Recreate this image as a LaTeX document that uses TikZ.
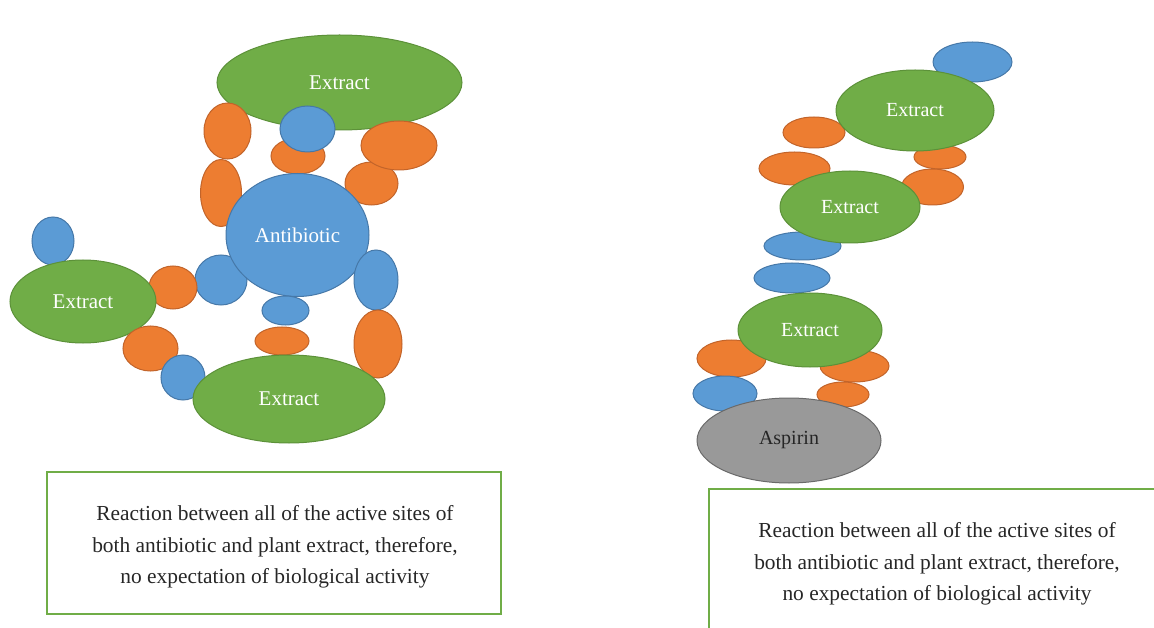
\documentclass[tikz,border=0pt]{standalone}
\usepackage{fontspec}
\setmainfont{Liberation Serif}
\usetikzlibrary{shapes.geometric}

\definecolor{siteblue}{HTML}{5B9BD5}
\definecolor{siteblueD}{HTML}{4678A8}
\definecolor{siteorange}{HTML}{ED7D31}
\definecolor{siteorangeD}{HTML}{C2642A}
\definecolor{extgreen}{HTML}{70AD47}
\definecolor{extgreenD}{HTML}{5C9139}
\definecolor{aspgrey}{HTML}{999999}
\definecolor{aspgreyD}{HTML}{6A6A6A}
\definecolor{boxgreen}{HTML}{70AD47}

\tikzset{
  blob/.style={ellipse, inner sep=0pt, line width=1pt},
  bsite/.style={blob, fill=siteblue, draw=siteblueD},
  osite/.style={blob, fill=siteorange, draw=siteorangeD},
  extract/.style={blob, fill=extgreen, draw=extgreenD, text=white,
    font=\fontsize{21}{24}\selectfont},
  extractR/.style={extract, font=\fontsize{20}{24}\selectfont},
  drug/.style={blob, fill=aspgrey, draw=aspgreyD, text=black!85,
    font=\fontsize{20}{24}\selectfont},
  antib/.style={blob, fill=siteblue, draw=siteblueD, text=white,
    font=\fontsize{21}{24}\selectfont},
  caption/.style={align=center, text=black!85,
    font=\fontsize{21.4}{31.5}\selectfont},
  sz/.style 2 args={minimum width=#1pt, minimum height=#2pt}
}

\begin{document}
\begin{tikzpicture}[x=1pt,y=-1pt]
\useasboundingbox (0,0) rectangle (1154,628);

% ---------- antibiotic bound to three extracts ----------
\node[extract, sz={245}{95}] (exTop) at (339.5,82.5) {Extract};
\node[osite, sz={47}{56}] (oL1) at (227.5,131) {};
\node[osite, sz={41}{67}] (oL2) at (221,193) {};
\node[osite, sz={53}{43}] (oR2) at (371.5,183.5) {};
\node[osite, sz={76}{49}] (oR1) at (399,145.5) {};
\node[osite, sz={54}{36}] (oM) at (298,156) {};
\node[bsite, sz={55}{46}] (bTop) at (307.5,129) {};
\node[bsite, sz={52}{50}] (bL) at (221,280) {};
\node[osite, sz={48}{43}] (oLm) at (173,287.5) {};
\node[antib, sz={143}{123}] (anti) at (297.5,235) {Antibiotic};
\node[bsite, sz={44}{60}] (bR) at (376,280) {};
\node[osite, sz={48}{68}] (oRb) at (378,344) {};
\node[bsite, sz={47}{29}] (bB) at (285.5,310.5) {};
\node[osite, sz={54}{28}] (oB) at (282,341) {};
\node[bsite, sz={42}{48}] (bFar) at (53,241) {};
\node[extract, sz={146}{83}] (exLeft) at (83,301.5) {Extract};
\node[osite, sz={55}{45}] (oLL) at (150.5,348.5) {};
\node[bsite, sz={44}{45}] (bLL) at (183,377.5) {};
\node[extract, sz={192}{88}] (exBot) at (289,399) {Extract};

\node[caption, draw=boxgreen, line width=2.4pt, minimum width=454pt,
  minimum height=142pt] (capL) at (274,543) {};
\node[caption] (capLtext) at (275,547)
  {Reaction between all of the active sites of\\
   both antibiotic and plant extract, therefore,\\
   no expectation of biological activity};

% ---------- aspirin bound to a chain of extracts ----------
\node[bsite, sz={79}{40}] (rbTop) at (972.5,62) {};
\node[osite, sz={62}{31}] (roA) at (814,132.5) {};
\node[osite, sz={71}{33}] (roB) at (794.5,168.5) {};
\node[osite, sz={52}{24}] (roC) at (940,157) {};
\node[osite, sz={62}{36}] (roD) at (932.5,187) {};
\node[bsite, sz={77}{28}] (rbA) at (802.5,246) {};
\node[bsite, sz={76}{30}] (rbB) at (792,278) {};
\node[osite, sz={69}{37}] (roE) at (731.5,358.5) {};
\node[osite, sz={69}{32}] (roF) at (854.5,366) {};
\node[osite, sz={52}{25}] (roG) at (843,394.5) {};
\node[bsite, sz={64}{35}] (rbC) at (725,393.5) {};
\node[extractR, sz={158}{81}] (rex1) at (915,110.5) {Extract};
\node[extractR, sz={140}{72}] (rex2) at (850,207) {Extract};
\node[extractR, sz={144}{74}] (rex3) at (810,330) {Extract};
\node[drug, sz={184}{85}] (asp) at (789,440.5) {Aspirin};

\coordinate (frameTR) at (1154,489);
\coordinate (frameTL) at (709,489);
\coordinate (frameBL) at (709,628);
\draw[boxgreen, line width=2.4pt] (frameTR) -- (frameTL) -- (frameBL);
\node[caption] (capR) at (937,564)
  {Reaction between all of the active sites of\\
   both antibiotic and plant extract, therefore,\\
   no expectation of biological activity};
\end{tikzpicture}
\end{document}
